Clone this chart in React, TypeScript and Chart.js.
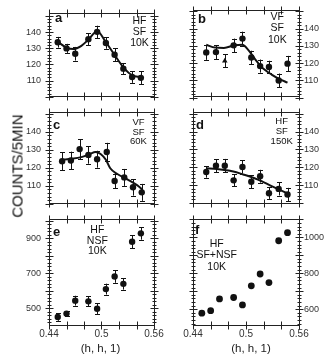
import React, { useEffect, useRef } from 'react';
import { Chart, registerables } from 'chart.js';

Chart.register(...registerables);

const PAGE_W = 332;
const PAGE_H = 359;
const FONT = '"Liberation Sans", Arial, Helvetica, sans-serif';
const INK = '#111';

// ---------------- data ----------------
// panel a : HF SF 10K
const xA = [0.45, 0.46, 0.47, 0.485, 0.495, 0.505, 0.515, 0.525, 0.535, 0.545];
const yA = [133.7, 129.9, 126.6, 135.6, 140.1, 133.2, 126.0, 117.4, 112.2, 111.7];
const errA = [3.3, 2.8, 4.2, 3.6, 3.8, 3.5, 3.9, 3.4, 3.6, 4.0];
const fitXA = [0.45, 0.46, 0.468, 0.477, 0.485, 0.495, 0.505, 0.515, 0.525, 0.535, 0.545];
const fitYA = [134.0, 130.4, 129.5, 131.5, 135.3, 140.5, 133.7, 125.8, 118.2, 113.3, 112.2];

// panel b : VF SF 10K
const xB = [0.455, 0.466, 0.476, 0.486, 0.496, 0.506, 0.516, 0.526, 0.537, 0.547];
const yB = [126.2, 126.4, 121.3, 130.3, 134.2, 123.3, 118.3, 117.8, 110.0, 119.7];
const errB = [4.3, 4.0, 3.8, 3.9, 4.0, 3.9, 3.8, 3.6, 4.0, 4.5];
const markB = ['circle', 'circle', 'triangle', 'circle', 'circle', 'circle', 'circle', 'circle', 'circle', 'circle'];
const fitXB = [0.455, 0.465, 0.475, 0.487, 0.496, 0.502, 0.51, 0.517, 0.529, 0.538, 0.547];
const fitYB = [130.6, 129.0, 128.8, 130.3, 130.6, 128.0, 122.5, 118.1, 113.4, 110.8, 108.7];

// panel c : VF SF 60K
const xC = [0.455, 0.465, 0.475, 0.485, 0.495, 0.506, 0.515, 0.526, 0.536, 0.546];
const yC = [123.7, 124.1, 130.4, 127.2, 124.8, 128.8, 112.7, 114.7, 109.2, 106.4];
const errC = [4.9, 4.9, 5.5, 4.9, 4.7, 5.1, 4.0, 4.7, 4.6, 4.7];
const fitXC = [0.455, 0.466, 0.478, 0.487, 0.493, 0.499, 0.505, 0.51, 0.518, 0.53, 0.541, 0.547];
const fitYC = [124.5, 125.0, 126.1, 127.7, 128.8, 127.7, 124.5, 119.8, 116.6, 113.5, 110.3, 107.9];

// panel d : HF SF 150K
const xD = [0.455, 0.466, 0.476, 0.486, 0.496, 0.506, 0.516, 0.526, 0.537, 0.547];
const yD = [117.4, 120.9, 120.9, 112.7, 120.2, 111.9, 115.0, 105.5, 107.9, 104.8];
const errD = [3.2, 3.6, 3.8, 3.3, 3.7, 3.6, 3.6, 3.2, 3.7, 3.7];
const fitXD = [0.455, 0.467, 0.483, 0.498, 0.5135, 0.529, 0.5475];
const fitYD = [119.5, 119.0, 117.9, 115.8, 113.1, 109.5, 105.3];

// panel e : HF NSF 10K
const xE = [0.45, 0.46, 0.47, 0.485, 0.495, 0.505, 0.515, 0.525, 0.535, 0.545];
const yE = [451, 470, 544, 540, 498, 610, 682, 640, 880, 928];
const errE = [22, 15, 28, 28, 30, 31, 36, 33, 38, 36];

// panel f : HF SF+NSF 10K
const xF = [0.45, 0.46, 0.47, 0.486, 0.496, 0.506, 0.516, 0.526, 0.537, 0.547];
const yF = [578, 592, 657, 665, 624, 730, 796, 748, 981, 1026];

// ticks
const xTickMarks = [0.44, 0.46, 0.48, 0.5, 0.52, 0.54, 0.56];
const xLabelValues = [0.44, 0.5, 0.56];
const xLabelTexts = ['0.44', '0.5', '0.56'];
const yLabelsCounts = [110, 120, 130, 140];
const yLabelsE = [500, 700, 900];
const yLabelsF = [600, 800, 1000];
const yMajorCounts = [100, 110, 120, 130, 140, 150];
const yMajorE = [500, 600, 700, 800, 900, 1000];
const yMajorF = [600, 700, 800, 900, 1000, 1100];

function steps(from: number, to: number, step: number): number[] {
  const out: number[] = [];
  for (let v = from; v <= to + 1e-9; v += step) out.push(Math.round(v * 1000) / 1000);
  return out;
}
const minorOf = (from: number, to: number, step: number, majors: number[]) =>
  steps(from, to, step).filter((v) => !majors.includes(v));

// ---------------- panel layout (styles) ----------------
type Panel = {
  key: string;
  area: { l: number; t: number; r: number; b: number };
  yPos: 'left' | 'right';
  yMin: number;
  yMax: number;
  yLabels: number[];
  yMajor: number[];
  yMinor: number[];
  showX: boolean;
  xs: number[];
  ys: number[];
  errs?: number[];
  marks?: string[];
  fitX?: number[];
  fitY?: number[];
  radius: number;
  letter: string;
  letterAt: [number, number];
  notes: string[];
  notesAt: [number, number];
  notesGap: number;
  notesSize: number;
};

const COL_L = { l: 49, r: 154 };
const COL_R = { l: 193, r: 299 };
const ROW1 = { t: 7, b: 112 };
const ROW2 = { t: 112, b: 219 };
const ROW3 = { t: 219, b: 325 };

const panels: Panel[] = [
  {
    key: 'a', area: { ...COL_L, ...ROW1 }, yPos: 'left', yMin: 100.5, yMax: 151.5,
    yLabels: yLabelsCounts, yMajor: yMajorCounts, yMinor: minorOf(100, 150, 2, yMajorCounts),
    showX: false, xs: xA, ys: yA, errs: errA, fitX: fitXA, fitY: fitYA, radius: 3.2,
    letter: 'a', letterAt: [55, 18.5], notes: ['HF', 'SF', '10K'], notesAt: [139.5, 20.8], notesGap: 11.3, notesSize: 10.5,
  },
  {
    key: 'b', area: { ...COL_R, ...ROW1 }, yPos: 'right', yMin: 101, yMax: 150.5,
    yLabels: yLabelsCounts, yMajor: yMajorCounts, yMinor: minorOf(102, 150, 2, yMajorCounts),
    showX: false, xs: xB, ys: yB, errs: errB, marks: markB, fitX: fitXB, fitY: fitYB, radius: 3.2,
    letter: 'b', letterAt: [198, 19], notes: ['VF', 'SF', '10K'], notesAt: [277.3, 16.7], notesGap: 11.5, notesSize: 10.5,
  },
  {
    key: 'c', area: { ...COL_L, ...ROW2 }, yPos: 'left', yMin: 100.5, yMax: 151,
    yLabels: yLabelsCounts, yMajor: yMajorCounts, yMinor: minorOf(102, 150, 2, yMajorCounts),
    showX: false, xs: xC, ys: yC, errs: errC, fitX: fitXC, fitY: fitYC, radius: 3.2,
    letter: 'c', letterAt: [53, 125], notes: ['VF', 'SF', '60K'], notesAt: [138.5, 122.5], notesGap: 9.6, notesSize: 9.5,
  },
  {
    key: 'd', area: { ...COL_R, ...ROW2 }, yPos: 'right', yMin: 100, yMax: 151,
    yLabels: yLabelsCounts, yMajor: yMajorCounts, yMinor: minorOf(100, 150, 2, yMajorCounts),
    showX: false, xs: xD, ys: yD, errs: errD, fitX: fitXD, fitY: fitYD, radius: 3.2,
    letter: 'd', letterAt: [196, 125], notes: ['HF', 'SF', '150K'], notesAt: [281.7, 121.7], notesGap: 10, notesSize: 9.5,
  },
  {
    key: 'e', area: { ...COL_L, ...ROW3 }, yPos: 'left', yMin: 405, yMax: 1010,
    yLabels: yLabelsE, yMajor: yMajorE, yMinor: minorOf(420, 1000, 20, yMajorE),
    showX: true, xs: xE, ys: yE, errs: errE, radius: 3.2,
    letter: 'e', letterAt: [53, 232.5], notes: ['HF', 'NSF', '10K'], notesAt: [97.3, 230], notesGap: 10.8, notesSize: 10.5,
  },
  {
    key: 'f', area: { ...COL_R, ...ROW3 }, yPos: 'right', yMin: 512, yMax: 1102,
    yLabels: yLabelsF, yMajor: yMajorF, yMinor: minorOf(520, 1100, 20, yMajorF),
    showX: true, xs: xF, ys: yF, radius: 3.4,
    letter: 'f', letterAt: [195, 230], notes: ['HF', 'SF+NSF', '10K'], notesAt: [216.7, 244.2], notesGap: 11.4, notesSize: 10.5,
  },
];

// ---------------- plugins ----------------
function errorBarPlugin(p: Panel) {
  return {
    id: 'errorBars_' + p.key,
    beforeDatasetsDraw(chart: any) {
      if (!p.errs) return;
      const { ctx } = chart;
      const xs = chart.scales.x;
      const ys = chart.scales.y;
      ctx.save();
      ctx.strokeStyle = INK;
      ctx.lineWidth = 1;
      ctx.beginPath();
      p.xs.forEach((xv, i) => {
        const e = p.errs![i];
        const px = Math.round(xs.getPixelForValue(xv)) + 0.5;
        const y1 = ys.getPixelForValue(p.ys[i] - e);
        const y2 = ys.getPixelForValue(p.ys[i] + e);
        ctx.moveTo(px, y1);
        ctx.lineTo(px, y2);
        ctx.moveTo(px - 2.5, Math.round(y1) + 0.5);
        ctx.lineTo(px + 2.5, Math.round(y1) + 0.5);
        ctx.moveTo(px - 2.5, Math.round(y2) + 0.5);
        ctx.lineTo(px + 2.5, Math.round(y2) + 0.5);
      });
      ctx.stroke();
      ctx.restore();
    },
  };
}

function framePlugin(p: Panel) {
  return {
    id: 'frame_' + p.key,
    afterDraw(chart: any) {
      const { ctx, chartArea } = chart;
      const xs = chart.scales.x;
      const ys = chart.scales.y;
      const s = (v: number) => Math.round(v) + 0.5;
      const l = s(chartArea.left);
      const r = s(chartArea.right);
      const t = s(chartArea.top);
      const b = s(chartArea.bottom);
      const M = 4;
      const m = 2;
      ctx.save();
      ctx.strokeStyle = '#222';
      ctx.lineWidth = 1;
      ctx.beginPath();
      ctx.rect(l, t, r - l, b - t);
      xTickMarks.forEach((v) => {
        const px = s(xs.getPixelForValue(v));
        ctx.moveTo(px, t - M);
        ctx.lineTo(px, t + M);
        ctx.moveTo(px, b - M);
        ctx.lineTo(px, b + M);
      });
      p.yMajor.forEach((v) => {
        const py = s(ys.getPixelForValue(v));
        ctx.moveTo(l - M, py);
        ctx.lineTo(l + M, py);
        ctx.moveTo(r - M, py);
        ctx.lineTo(r + M, py);
      });
      p.yMinor.forEach((v) => {
        const py = s(ys.getPixelForValue(v));
        ctx.moveTo(l - m, py);
        ctx.lineTo(l + m, py);
        ctx.moveTo(r - m, py);
        ctx.lineTo(r + m, py);
      });
      ctx.stroke();
      ctx.restore();
    },
  };
}

function notesPlugin(p: Panel) {
  return {
    id: 'notes_' + p.key,
    afterDraw(chart: any) {
      const { ctx } = chart;
      ctx.save();
      ctx.fillStyle = INK;
      ctx.textBaseline = 'middle';
      ctx.textAlign = 'left';
      ctx.font = `bold 13px ${FONT}`;
      ctx.fillText(p.letter, p.letterAt[0], p.letterAt[1]);
      ctx.textAlign = 'center';
      ctx.font = `${p.notesSize}px ${FONT}`;
      p.notes.forEach((line, i) => {
        ctx.fillText(line, p.notesAt[0], p.notesAt[1] + i * p.notesGap);
      });
      ctx.restore();
    },
  };
}

// ---------------- chart ----------------
const Y_BOX = 40;
const X_BOX = 16;

function makeConfig(p: Panel): any {
  const yRight = p.yPos === 'right';
  const datasets: any[] = [
    {
      data: p.xs.map((x, i) => ({ x, y: p.ys[i] })),
      backgroundColor: INK,
      borderColor: INK,
      pointRadius: p.radius,
      pointBorderWidth: 0,
      pointStyle: p.marks ?? 'circle',
      showLine: false,
    },
  ];
  if (p.fitX && p.fitY) {
    datasets.push({
      data: p.fitX.map((x, i) => ({ x, y: p.fitY![i] })),
      showLine: true,
      borderColor: INK,
      borderWidth: 2,
      pointRadius: 0,
      cubicInterpolationMode: 'monotone',
      fill: false,
    });
  }
  return {
    type: 'scatter',
    data: { datasets },
    options: {
      responsive: false,
      animation: false,
      devicePixelRatio: 1,
      events: [],
      layout: {
        padding: {
          left: yRight ? p.area.l : p.area.l - Y_BOX,
          right: yRight ? PAGE_W - p.area.r - Y_BOX : PAGE_W - p.area.r,
          top: p.area.t,
          bottom: p.showX ? PAGE_H - p.area.b - X_BOX : PAGE_H - p.area.b,
        },
      },
      plugins: { legend: { display: false }, tooltip: { enabled: false } },
      scales: {
        x: {
          type: 'linear',
          min: 0.44,
          max: 0.56,
          display: p.showX,
          grid: { display: false, drawTicks: false },
          border: { display: false },
          afterBuildTicks: (scale: any) => {
            scale.ticks = xLabelValues.map((v) => ({ value: v }));
          },
          afterFit: (scale: any) => {
            scale.height = X_BOX;
          },
          ticks: {
            autoSkip: false,
            maxRotation: 0,
            padding: 3,
            color: '#333',
            font: { family: FONT, size: 10 },
            callback: (v: number) => {
              const i = xLabelValues.indexOf(v);
              return i >= 0 ? xLabelTexts[i] : '';
            },
          },
        },
        y: {
          type: 'linear',
          position: p.yPos,
          min: p.yMin,
          max: p.yMax,
          grid: { display: false, drawTicks: false },
          border: { display: false },
          afterBuildTicks: (scale: any) => {
            scale.ticks = p.yLabels.map((v) => ({ value: v }));
          },
          afterFit: (scale: any) => {
            scale.width = Y_BOX;
          },
          ticks: {
            autoSkip: false,
            padding: yRight ? 5 : 8,
            color: '#333',
            font: { family: FONT, size: 9 },
            callback: (v: number) => String(v),
          },
        },
      },
    },
    plugins: [errorBarPlugin(p), framePlugin(p), notesPlugin(p)],
  };
}

function PanelCanvas({ p }: { p: Panel }) {
  const ref = useRef<HTMLCanvasElement>(null);
  useEffect(() => {
    const chart = new Chart(ref.current!, makeConfig(p));
    return () => chart.destroy();
  }, [p]);
  return (
    <canvas
      ref={ref}
      width={PAGE_W}
      height={PAGE_H}
      style={{ position: 'absolute', left: 0, top: 0, width: PAGE_W, height: PAGE_H, pointerEvents: 'none' }}
    />
  );
}

export default function App() {
  return (
    <div
      style={{
        position: 'fixed',
        left: 0,
        top: 0,
        width: PAGE_W,
        height: PAGE_H,
        background: '#fff',
        overflow: 'hidden',
        fontFamily: FONT,
        color: INK,
      }}
    >
      {panels.map((p) => (
        <PanelCanvas key={p.key} p={p} />
      ))}
      <div
        style={{
          position: 'absolute',
          left: 16.5,
          top: 165.5,
          transform: 'translate(-50%, -50%) rotate(-90deg)',
          whiteSpace: 'nowrap',
          fontSize: 15,
          lineHeight: '15px',
        }}
      >
        COUNTS/5MIN
      </div>
      <div
        style={{
          position: 'absolute',
          left: 100.5,
          top: 347.5,
          transform: 'translate(-50%, -50%)',
          whiteSpace: 'nowrap',
          fontSize: 11.5,
          lineHeight: '12px',
          color: '#222',
        }}
      >
        (h, h, 1)
      </div>
      <div
        style={{
          position: 'absolute',
          left: 251,
          top: 347.5,
          transform: 'translate(-50%, -50%)',
          whiteSpace: 'nowrap',
          fontSize: 11.5,
          lineHeight: '12px',
          color: '#222',
        }}
      >
        (h, h, 1)
      </div>
    </div>
  );
}
